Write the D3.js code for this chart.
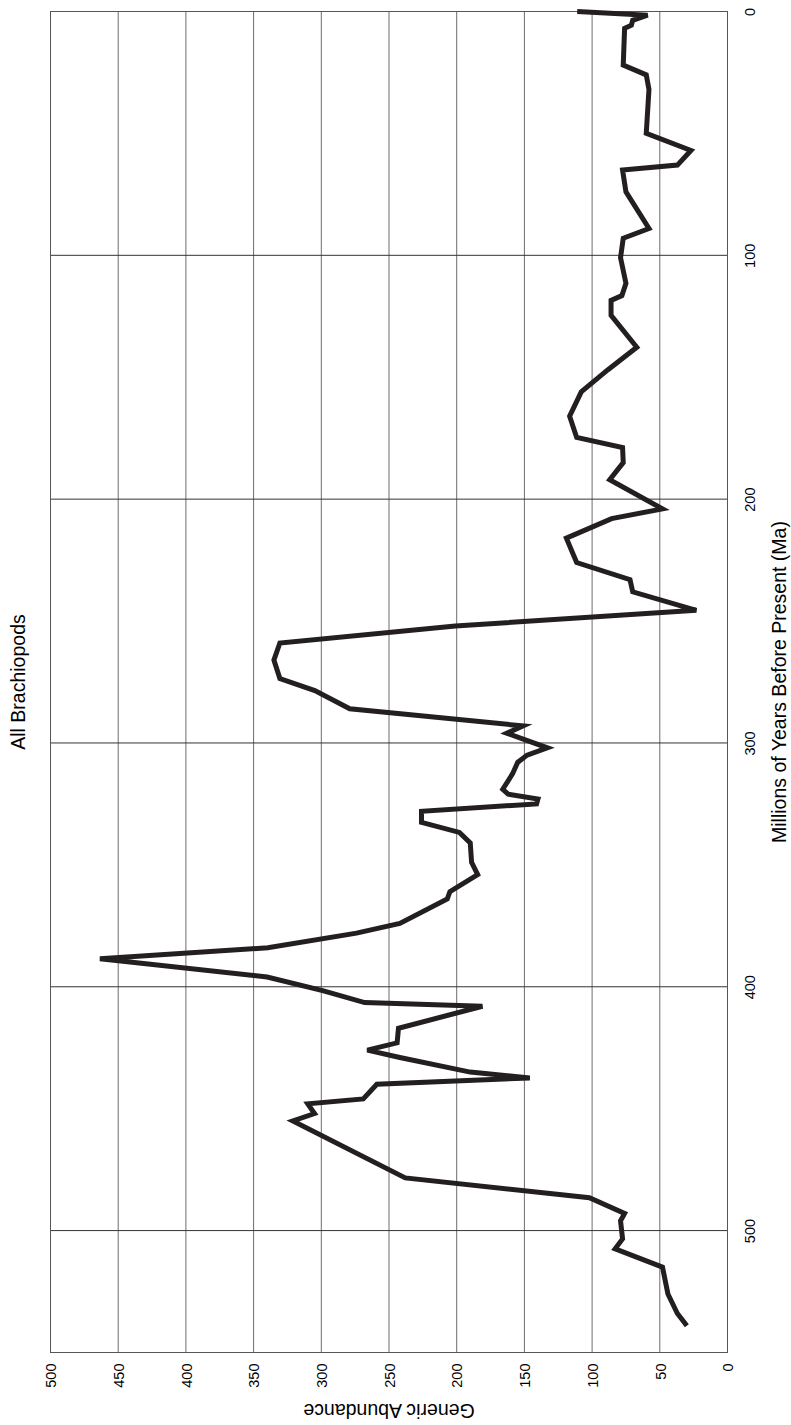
<!DOCTYPE html>
<html>
<head>
<meta charset="utf-8">
<script src="https://cdn.jsdelivr.net/npm/d3@7"></script>
<style>
  body { margin: 0; background: #fff; }
  svg { display: block; font-family: "Liberation Sans", Arial, sans-serif; }
</style>
</head>
<body>
<div id="chart-container"></div>
<script>
// Ma (millions of years before present) and generic abundance
const ageMa = [0, 1.5, 3.6, 5.6, 6.9, 22, 26, 32, 50, 57, 63, 65, 74, 89, 93, 101, 111.5, 116.5, 118.5, 124.6,
  137.7, 147, 156, 166, 174.7, 178.8, 185, 192, 204, 208, 216, 226, 233, 238, 245.6, 252, 259, 266, 273.6,
  278.5, 286, 293, 296, 302, 305, 308, 312.6, 319, 321, 323, 325, 328, 332.6, 336.7, 341, 349, 354, 361,
  364, 374, 378, 384, 388.5, 396, 401.6, 406.5, 408, 417, 423, 426, 429, 435, 437.4, 440, 446, 448, 452,
  455, 478.4, 486.5, 493, 496, 503.4, 507.5, 515, 526, 534, 539];
const genera = [111, 59, 70, 71, 76, 77, 60, 58, 60, 27, 37, 77.5, 75, 58, 77, 79, 75, 78, 86, 86,
  67, 88.5, 108, 116.6, 111.4, 77.5, 77, 87, 48, 85.6, 119, 111.4, 72, 70, 23, 201, 330.6, 335, 330.6,
  304.8, 279, 151, 163, 133, 148, 155, 158.7, 166, 162, 140, 141, 226, 226, 198, 190, 189, 184.5, 205,
  207, 242, 274, 339.5, 463.5, 340, 299, 268, 181, 243, 244, 266, 242, 190, 146, 259, 269, 310, 305,
  321, 238, 102, 76, 79, 77.5, 83, 48, 44, 37, 30];

const abundanceTicks = [0, 50, 100, 150, 200, 250, 300, 350, 400, 450, 500];
const ageTicks = [0, 100, 200, 300, 400, 500];

const chartTitle = "All Brachiopods";
const ageTitle = "Millions of Years Before Present (Ma)";
const abundanceTitle = "Generic Abundance";

// the chart is drawn turned on its side: age runs down, abundance runs right-to-left
const width = 791, height = 1425;
const plot = {left: 50.5, right: 727.5, top: 11.5, bottom: 1352.5};

const data = ageMa.map((d, i) => ({age: d, n: genera[i]}));

const svg = d3.select("#chart-container")
  .append("svg")
  .attr("width", width)
  .attr("height", height);

const x = d3.scaleLinear()
  .domain([0, 500])
  .range([plot.right, plot.left]);

const y = d3.scaleLinear()
  .domain([0, 550])
  .range([plot.top, plot.bottom]);

// grid
svg.append("g")
  .selectAll("line")
  .data(abundanceTicks.slice(1, -1))
  .join("line")
  .attr("x1", d => x(d)).attr("x2", d => x(d))
  .attr("y1", plot.top).attr("y2", plot.bottom)
  .attr("stroke", "#6d6d6d")
  .attr("stroke-width", 1);

svg.append("g")
  .selectAll("line")
  .data(ageTicks.slice(1))
  .join("line")
  .attr("x1", plot.left).attr("x2", plot.right)
  .attr("y1", d => y(d)).attr("y2", d => y(d))
  .attr("stroke", "#333")
  .attr("stroke-width", 1);

svg.append("rect")
  .attr("x", plot.left)
  .attr("y", plot.top)
  .attr("width", plot.right - plot.left)
  .attr("height", plot.bottom - plot.top)
  .attr("fill", "none")
  .attr("stroke", "#555")
  .attr("stroke-width", 1);

// abundance axis along the bottom
const xAxis = svg.append("g")
  .attr("transform", `translate(0,${plot.bottom})`)
  .call(d3.axisBottom(x).tickValues(abundanceTicks).tickSize(0));
xAxis.select(".domain").remove();
xAxis.selectAll("text")
  .attr("transform", "rotate(-90)")
  .attr("x", -11)
  .attr("y", 0)
  .attr("dy", "0.36em")
  .style("text-anchor", "end")
  .style("font-size", "14.5px")
  .style("font-family", "Liberation Sans, Arial, sans-serif")
  .attr("fill", "#000");

// age axis along the right
const yAxis = svg.append("g")
  .attr("transform", `translate(${plot.right},0)`)
  .call(d3.axisRight(y).tickValues(ageTicks).tickSize(0));
yAxis.select(".domain").remove();
yAxis.selectAll("text")
  .attr("transform", "rotate(-90)")
  .attr("x", 0)
  .attr("y", 27.5)
  .attr("dy", 0)
  .style("text-anchor", "middle")
  .style("font-size", "14.5px")
  .style("font-family", "Liberation Sans, Arial, sans-serif")
  .attr("fill", "#000");

// the series
const line = d3.line()
  .x(d => x(d.n))
  .y(d => y(d.age));

svg.append("path")
  .datum(data)
  .attr("d", line)
  .attr("fill", "none")
  .attr("stroke", "#231f20")
  .attr("stroke-width", 5)
  .attr("stroke-linejoin", "miter");

// titles
svg.append("text")
  .attr("transform", `translate(25,${(plot.top + plot.bottom) / 2}) rotate(-90)`)
  .style("text-anchor", "middle")
  .style("font-size", "19.5px")
  .text(chartTitle);

svg.append("text")
  .attr("transform", `translate(786,${(plot.top + plot.bottom) / 2}) rotate(-90)`)
  .style("text-anchor", "middle")
  .style("font-size", "19.5px")
  .text(ageTitle);

svg.append("text")
  .attr("transform", `translate(${(plot.left + plot.right) / 2},1404) rotate(180)`)
  .style("text-anchor", "middle")
  .style("font-size", "19.5px")
  .text(abundanceTitle);
</script>
</body>
</html>
